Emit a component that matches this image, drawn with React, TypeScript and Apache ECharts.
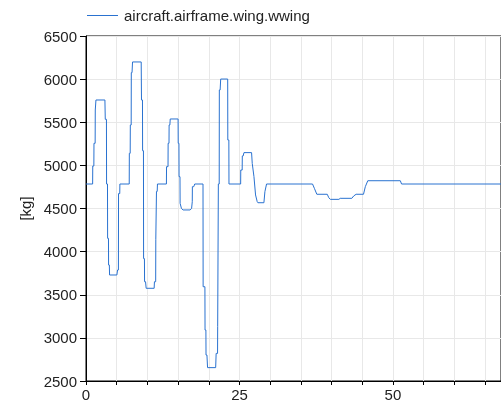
import React, { useEffect, useRef } from "react";
import * as echarts from "echarts";

const seriesName = "aircraft.airframe.wing.wwing";
const yAxisName = "[kg]";

const time: number[] = [
  0, 1.08, 1.1, 1.28, 1.3, 1.49, 1.51, 1.62, 3.08, 3.14, 3.33, 3.35, 3.5, 3.52, 3.66, 3.68, 3.8, 3.84,
  5.03, 5.14, 5.28, 5.3, 5.5, 5.52, 7.04, 7.06, 7.2, 7.22, 7.36, 7.38, 7.5, 7.58, 8.99, 9.04, 9.2, 9.22,
  9.36, 9.38, 9.52, 9.54, 9.7, 9.8, 11.1, 11.15, 11.35, 11.37, 11.46, 11.48, 11.6, 11.64, 13.1, 13.12,
  13.36, 13.38, 13.52, 13.54, 13.66, 13.72, 15.0, 15.02, 15.14, 15.16, 15.31, 15.33, 15.55, 15.81,
  16.95, 17.2, 17.31, 17.33, 17.55, 17.71, 19.06, 19.08, 19.37, 19.39, 19.53, 19.55, 19.7, 19.8,
  21.12, 21.2, 21.43, 21.45, 21.54, 21.56, 21.7, 21.72, 21.85, 21.94, 23.08, 23.1, 23.27, 23.29,
  25.19, 25.21, 25.44, 25.46, 25.6, 25.73, 26.97, 27.08, 27.36, 27.62, 27.89, 28.0, 28.98, 29.14,
  29.41, 36.9, 37.2, 37.6, 39.3, 39.55, 39.8, 41.2, 41.4, 43.3, 43.6, 44.0, 45.2, 45.5, 45.9, 51.2,
  51.4, 67.6,
];

const wwing: number[] = [
  4784, 4784, 4993, 4993, 5256, 5256, 5642, 5758, 5758, 5534, 5534, 4784, 4784, 4154, 4154, 3845, 3845, 3729,
  3729, 3787, 3787, 4673, 4673, 4784, 4784, 5140, 5140, 5468, 5468, 6075, 6075, 6199, 6199, 5758, 5758, 5170,
  5170, 3919, 3919, 3651, 3651, 3575, 3575, 3651, 3651, 4143, 4143, 4698, 4698, 4784, 4784, 4985,
  4985, 5256, 5256, 5468, 5468, 5538, 5538, 5256, 5256, 4869, 4869, 4560, 4500, 4483,
  4483, 4500, 4579, 4753, 4753, 4784, 4784, 3593, 3593, 3091, 3091, 2801, 2801, 2655,
  2655, 2820, 2820, 3130, 3130, 4784, 4784, 5874, 5874, 6001, 6001, 5294, 5294, 4784,
  4784, 4946, 4946, 5109, 5109, 5148, 5148, 5023, 4869, 4657, 4579, 4567, 4567, 4695,
  4784, 4784, 4734, 4665, 4665, 4625, 4606, 4606, 4618, 4618, 4645, 4665, 4665, 4753, 4822, 4822,
  4784, 4784,
];

const xMin = 0;
const xMax = 67.6;
const xInterval = 5;
const xLabelEvery = 25;
const yMin = 2500;
const yMax = 6500;
const yInterval = 500;

export default function App() {
  const ref = useRef<HTMLDivElement>(null);
  useEffect(() => {
    if (!ref.current) return;
    const chart = echarts.init(ref.current, undefined, { renderer: "svg" });
    const font = "Arial, 'Liberation Sans', sans-serif";
    const fs = 15;
    chart.setOption({
      animation: false,
      textStyle: { fontFamily: font },
      legend: {
        show: true,
        left: 82,
        top: 3,
        icon: "rect",
        itemWidth: 31,
        itemHeight: 1,
        itemGap: 10,
        textStyle: { fontSize: fs, color: "#222", fontFamily: font, padding: [0, 0, 0, 1] },
        data: [seriesName],
      },
      grid: {
        left: 86,
        top: 36,
        right: -2,
        bottom: 23,
        show: true,
        borderColor: "#000",
        borderWidth: 1,
        backgroundColor: "transparent",
      },
      xAxis: {
        type: "value",
        min: xMin,
        max: xMax,
        interval: xInterval,
        axisLine: { show: true, lineStyle: { color: "#000", width: 1 } },
        axisTick: { show: true, length: 4, lineStyle: { color: "#000" } },
        axisLabel: {
          show: true,
          margin: 6,
          fontSize: fs,
          color: "#222",
          fontFamily: font,
          showMaxLabel: false,
          formatter: (v: number) => (Math.abs(v % xLabelEvery) < 1e-9 ? String(v) : ""),
        },
        splitLine: { show: true, lineStyle: { color: "#e8e8e8", width: 1 } },
      },
      yAxis: {
        type: "value",
        min: yMin,
        max: yMax,
        interval: yInterval,
        name: yAxisName,
        nameLocation: "middle",
        nameGap: 43,
        nameTextStyle: { fontSize: fs, color: "#222", fontFamily: font },
        axisLine: { show: true, lineStyle: { color: "#000", width: 1 } },
        axisTick: { show: true, length: 6, lineStyle: { color: "#000" } },
        axisLabel: {
          show: true,
          margin: 9,
          fontSize: fs,
          color: "#222",
          fontFamily: font,
          formatter: (v: number) => String(v),
        },
        splitLine: { show: true, lineStyle: { color: "#e8e8e8", width: 1 } },
      },
      series: [
        {
          name: seriesName,
          type: "line",
          symbol: "none",
          showSymbol: false,
          lineStyle: { color: "#2a72d0", width: 1 },
          itemStyle: { color: "#2a72d0" },
          data: time.map((t, i) => [t, wwing[i]]),
        },
      ],
    });
    return () => chart.dispose();
  }, []);
  return (
    <div
      ref={ref}
      style={{ position: "fixed", left: 0, top: 0, width: 501, height: 404 }}
    />
  );
}
